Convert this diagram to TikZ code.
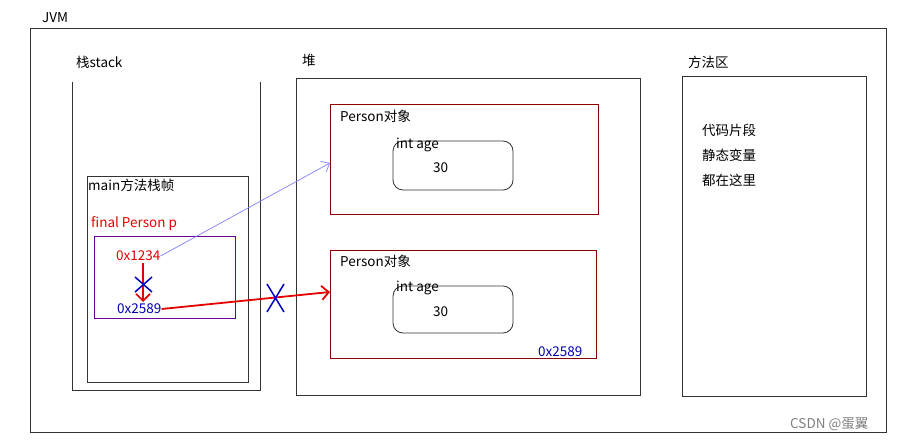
\documentclass[tikz,border=0pt]{standalone}
\usepackage{fontspec}
\setmainfont{Noto Sans CJK SC}
\usetikzlibrary{arrows.meta}
\begin{document}
\begin{tikzpicture}[x=1pt,y=-1pt,font=\fontsize{13.5}{15}\selectfont,
  box/.style={draw=black!80,line width=0.8pt},
  obj/.style={draw=red!55!black,line width=0.9pt},
  lbl/.style={inner sep=0pt,anchor=west},
  blu/.style={blue!70!black},
  red/.style={red!90!black}]
\useasboundingbox (0,0) rectangle (899,446);
\node[lbl] (jvm) at (42,18) {JVM};
\draw[box] (30,28) rectangle (886,432);
% stack
\node[lbl] (st) at (76,62) {栈stack};
\draw[box] (72,82) -- (72,390) -- (260,390) -- (260,82);
\draw[box] (87,176) rectangle (248,382);
\node[lbl] (mf) at (88,185) {main方法栈帧};
\node[lbl,red] (fp) at (91,224) {final Person p};
\draw[draw=blue!60!red,line width=0.8pt] (94,236) rectangle (235,318);
\node[lbl,red] (a1) at (116,256) {0x1234};
\node[lbl,blu] (a2) at (117,309) {0x2589};
% heap
\node[lbl] (heap) at (302,60) {堆};
\draw[box] (296,78) rectangle (640,395);
\draw[obj] (330,104) rectangle (598,214);
\node[lbl] (p1) at (340,116) {Person对象};
\draw[box,rounded corners=10pt] (393,141) rectangle (513,190);
\node[lbl] (i1) at (396,145) {int age};
\node[lbl] (v1) at (433,168) {30};
\draw[obj] (330,250) rectangle (596,358);
\node[lbl] (p2) at (340,261) {Person对象};
\draw[box,rounded corners=10pt] (393,286) rectangle (513,333);
\node[lbl] (i2) at (396,288) {int age};
\node[lbl] (v2) at (433,312) {30};
\node[lbl,blu] (h2) at (538,352) {0x2589};
\coordinate (t1) at (330,163);
\coordinate (t2) at (330,292);
% method area
\node[lbl] (ma) at (688,62) {方法区};
\draw[box] (682,76) rectangle (866,396);
\node[lbl] (m1) at (702,130) {代码片段};
\node[lbl] (m2) at (702,155) {静态变量};
\node[lbl] (m3) at (702,180) {都在这里};
% arrows
\draw[blue!50,line width=0.7pt,-{Straight Barb[length=7pt,width=12pt]}] (a1.east) -- (t1);
\draw[red,line width=1.8pt,-{Straight Barb[length=7pt,width=14pt]}] (a2.east) -- (t2);
\draw[red,line width=1.6pt,-{Straight Barb[length=7pt,width=14pt]}] (143,263) -- (143,302);
\draw[blue!75!black,line width=1.5pt] (135,277) -- (152,292) (135,292) -- (152,277);
\draw[blue!75!black,line width=1.5pt] (267,284) -- (284,312) (267,312) -- (284,284);
\node[lbl,gray] (csdn) at (790,424) {CSDN @蛋翼};
\end{tikzpicture}
\end{document}
